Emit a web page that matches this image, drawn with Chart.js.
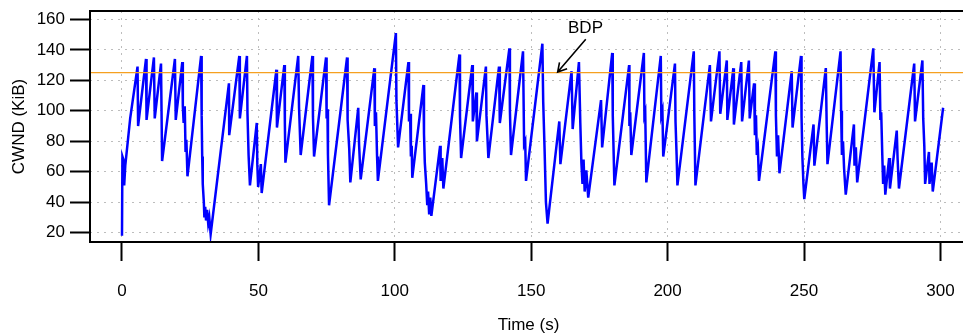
<!DOCTYPE html>
<html>
<head>
<meta charset="utf-8">
<script src="https://cdn.jsdelivr.net/npm/chart.js@4.4.0/dist/chart.umd.min.js"></script>
<style>
  html, body { margin: 0; padding: 0; background: #fff; overflow: hidden; }
  #wrap { width: 963px; height: 336px; overflow: hidden; }
</style>
</head>
<body>
<div id="wrap"><canvas id="cwndChart" width="970" height="336"></canvas></div>
<script>
// time (s) and congestion window (KiB)
const timeSec = [
  0.0, 0.15, 0.5, 0.8, 1.2, 3.0, 5.7, 5.9, 8.8, 9.0, 11.7, 12.0, 14.3, 14.7, 19.4, 19.7,
  22.1, 22.3, 22.6, 23.0, 23.3, 23.6, 24.0, 29.0, 29.2, 29.4, 29.6, 30.0, 30.2, 30.5, 30.8, 31.2,
  31.6, 32.0, 32.5, 39.2, 39.3, 43.0, 43.2, 45.8, 46.0, 46.4, 46.9, 49.4, 49.6, 49.9, 50.9, 51.2,
  56.6, 56.8, 59.5, 59.7, 59.9, 64.6, 64.9, 65.5, 69.8, 70.0, 70.4, 74.8, 75.0, 75.3, 75.5, 75.9,
  82.5, 82.7, 83.3, 83.7, 86.6, 86.9, 87.5, 92.5, 92.7, 93.1, 93.5, 93.8, 100.4, 100.6, 101.2, 105.0,
  105.2, 105.6, 105.9, 106.2, 106.4, 110.5, 110.7, 111.0, 111.5, 111.9, 112.2, 112.6, 113.0, 113.4, 116.6, 116.8,
  117.4, 117.8, 123.7, 123.9, 124.3, 128.4, 128.6, 129.9, 130.1, 133.4, 133.6, 134.3, 138.2, 138.5, 142.0, 142.2,
  142.6, 147.0, 147.4, 147.8, 148.1, 154.1, 154.4, 154.9, 155.4, 156.0, 160.3, 160.7, 164.8, 165.2, 167.5, 168.0,
  168.4, 168.8, 169.2, 169.6, 170.2, 170.9, 175.6, 176.0, 179.7, 179.9, 180.5, 185.9, 186.0, 186.3, 186.7, 191.3,
  191.5, 191.8, 192.2, 197.5, 197.7, 198.1, 198.4, 202.7, 202.9, 203.3, 203.6, 209.6, 209.8, 210.2, 215.5, 215.9,
  219.0, 219.3, 221.7, 221.9, 224.1, 224.3, 227.0, 227.3, 229.8, 230.1, 231.7, 232.0, 232.4, 232.7, 233.1, 233.5,
  239.5, 239.7, 240.1, 240.5, 241.0, 245.5, 245.8, 248.9, 249.1, 249.4, 249.8, 250.1, 253.5, 253.8, 258.0, 258.3,
  258.6, 263.4, 263.6, 263.9, 264.3, 264.7, 265.3, 268.3, 268.5, 269.0, 269.5, 275.4, 275.8, 277.7, 278.0, 278.3,
  278.7, 279.0, 279.4, 279.8, 281.2, 281.5, 284.0, 284.3, 284.8, 290.4, 290.7, 293.4, 293.7, 294.1, 294.4, 295.8,
  296.0, 296.8, 297.2, 301.0
];
const cwndKiB = [
  18, 70, 68, 51, 64, 95, 129, 90, 134, 94, 135, 95, 131, 67, 134, 94,
  132, 103, 92, 103, 73, 81, 57, 136, 97, 70, 52, 40, 30, 37, 28, 35,
  26, 30, 19, 118, 84, 136, 95, 136, 98, 71, 51, 92, 65, 50, 65, 46,
  127, 89, 130, 92, 66, 136, 102, 71, 136, 96, 70, 135, 95, 101, 71, 38,
  135, 94, 75, 53, 102, 78, 55, 128, 90, 99, 70, 54, 151, 107, 76, 132,
  93, 98, 70, 77, 56, 117, 85, 66, 52, 38, 47, 32, 43, 31, 77, 54,
  69, 49, 137, 96, 69, 130, 93, 112, 80, 129, 97, 69, 129, 92, 141, 100,
  71, 139, 78, 80, 54, 144, 106, 75, 40, 26, 93, 65, 126, 88, 132, 92,
  66, 52, 68, 47, 61, 43, 107, 76, 138, 97, 51, 130, 90, 99, 71, 138,
  97, 99, 53, 136, 97, 100, 70, 131, 93, 71, 51, 139, 97, 51, 130, 93,
  139, 98, 133, 94, 128, 91, 132, 93, 133, 95, 118, 84, 97, 71, 75, 54,
  139, 97, 70, 84, 59, 126, 89, 136, 96, 70, 52, 42, 91, 64, 128, 92,
  65, 139, 100, 71, 80, 62, 45, 91, 64, 76, 53, 141, 99, 132, 94, 99,
  71, 52, 64, 45, 69, 49, 87, 69, 49, 131, 93, 133, 95, 77, 52, 73,
  52, 66, 47, 102
];

const xTicks = [0, 50, 100, 150, 200, 250, 300];
const yTicks = [20, 40, 60, 80, 100, 120, 140, 160];

const bdpKiB = 125;
const bdpLabel = 'BDP';
const bdpLabelAt = { x: 169.9, y: 153.9 };
const bdpArrowFrom = { x: 170.0, y: 146.9 };
const bdpArrowTo = { x: 159.7, y: 125.4 };

const xMin = -11.73, xMax = 309.75;
const yMin = 13.9, yMax = 165.5;

const fontFamily = '"Liberation Sans", Arial, Helvetica, sans-serif';

const cwndPoints = timeSec.map((t, i) => ({ x: t, y: cwndKiB[i] }));
const bdpPoints = [{ x: xMin, y: bdpKiB }, { x: xMax, y: bdpKiB }];

// box around the plot + the BDP arrow and label
const framePlugin = {
  id: 'frame',
  afterDraw(chart) {
    const { ctx, chartArea: a, scales } = chart;
    ctx.save();
    ctx.strokeStyle = '#000';
    ctx.lineWidth = 2;
    ctx.strokeRect(a.left, a.top, a.right - a.left, a.bottom - a.top);

    const x1 = scales.x.getPixelForValue(bdpArrowFrom.x);
    const y1 = scales.y.getPixelForValue(bdpArrowFrom.y);
    const x2 = scales.x.getPixelForValue(bdpArrowTo.x);
    const y2 = scales.y.getPixelForValue(bdpArrowTo.y);
    ctx.lineWidth = 1.6;
    ctx.beginPath();
    ctx.moveTo(x1, y1);
    ctx.lineTo(x2, y2);
    const ang = Math.atan2(y2 - y1, x2 - x1);
    const head = 10;
    ctx.moveTo(x2 - head * Math.cos(ang - Math.PI / 6), y2 - head * Math.sin(ang - Math.PI / 6));
    ctx.lineTo(x2, y2);
    ctx.lineTo(x2 - head * Math.cos(ang + Math.PI / 6), y2 - head * Math.sin(ang + Math.PI / 6));
    ctx.stroke();

    ctx.fillStyle = '#000';
    ctx.font = '17px ' + fontFamily;
    ctx.textAlign = 'center';
    ctx.textBaseline = 'middle';
    ctx.fillText(bdpLabel, scales.x.getPixelForValue(bdpLabelAt.x), scales.y.getPixelForValue(bdpLabelAt.y));
    ctx.restore();
  }
};

const tickFont = { family: fontFamily, size: 17 };

// keep the plot box where the reference has it, no extra label padding
function noPad(s) {
  s.paddingTop = 0;
  s.paddingBottom = 0;
  s.paddingLeft = 0;
  s.paddingRight = 0;
}

new Chart(document.getElementById('cwndChart'), {
  type: 'line',
  data: {
    datasets: [
      {
        label: 'BDP',
        data: bdpPoints,
        borderColor: '#f5a020',
        borderWidth: 1.3,
        pointRadius: 0
      },
      {
        label: 'CWND',
        data: cwndPoints,
        borderColor: '#0000ff',
        borderWidth: 2.5,
        pointRadius: 0,
        tension: 0
      }
    ]
  },
  options: {
    responsive: false,
    animation: false,
    layout: { padding: { left: 0, top: 11, right: 3, bottom: 0 } },
    plugins: { legend: { display: false }, tooltip: { enabled: false } },
    scales: {
      x: {
        type: 'linear',
        min: xMin,
        max: xMax,
        afterBuildTicks: s => { s.ticks = xTicks.map(v => ({ value: v })); },
        afterFit: s => { s.height = 94; noPad(s); },
        ticks: { font: tickFont, color: '#000', padding: 20, maxRotation: 0, autoSkip: false },
        grid: { color: '#bdbdbd', lineWidth: 1, tickColor: '#000', tickWidth: 2, tickLength: 19 },
        border: { display: false, dash: [2, 5] },
        title: { display: true, text: 'Time (s)', font: tickFont, color: '#000', padding: { top: 0, bottom: 0 } }
      },
      y: {
        type: 'linear',
        min: yMin,
        max: yMax,
        afterBuildTicks: s => { s.ticks = yTicks.map(v => ({ value: v })); },
        afterFit: s => { s.width = 90; noPad(s); },
        ticks: { font: tickFont, color: '#000', padding: 5, autoSkip: false },
        grid: { color: '#bdbdbd', lineWidth: 1, tickColor: '#000', tickWidth: 2, tickLength: 20 },
        border: { display: false, dash: [2, 5] },
        title: { display: true, text: 'CWND (KiB)', font: tickFont, color: '#000', padding: { top: 9, bottom: 0 } }
      }
    }
  },
  plugins: [framePlugin]
});
</script>
</body>
</html>
